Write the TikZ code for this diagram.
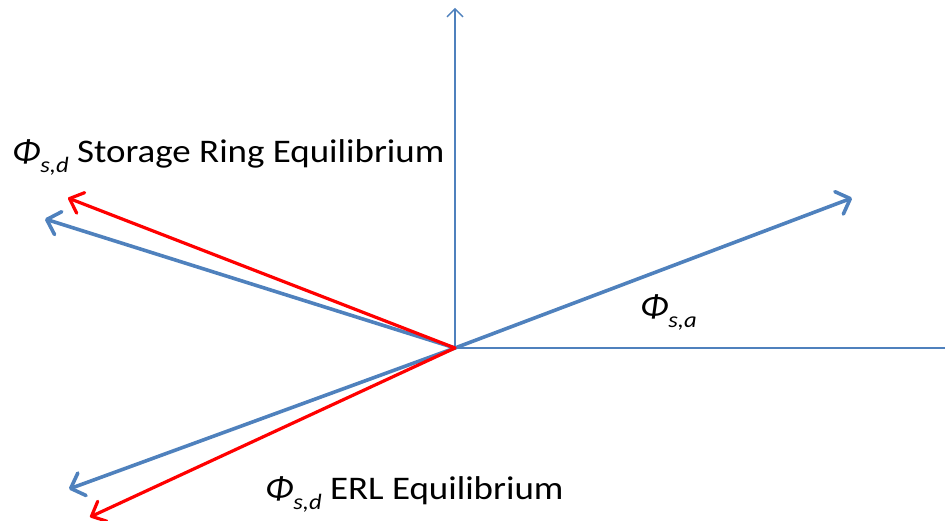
\documentclass[tikz,border=0pt]{standalone}
\usepackage{fontspec}
\setmainfont{Carlito}
\usetikzlibrary{arrows.meta}
\definecolor{ofblue}{RGB}{79,129,189}
\newcommand{\phisub}[1]{\textit{Φ}\raisebox{-0.28em}{\fontsize{22}{22}\selectfont\itshape #1}}
\newcommand{\wide}[1]{\scalebox{1.12}[1]{#1}}
\begin{document}
\begin{tikzpicture}[x=1pt,y=1pt,
  axisline/.style={draw=ofblue,line width=1.4pt,-{Straight Barb[length=8pt,width=16pt,line width=1.4pt]}},
  plainaxis/.style={draw=ofblue,line width=1.4pt},
  bluevec/.style={draw=ofblue,line width=3.6pt,line cap=round,-{Straight Barb[length=12pt,width=24pt,line width=3.6pt,round]}},
  redvec/.style={draw=red,line width=3.2pt,line cap=round,-{Straight Barb[length=12pt,width=22pt,line width=3.2pt,round]}},
  lbl/.style={anchor=base west,inner sep=0pt,font=\fontsize{33}{33}\selectfont}]
\useasboundingbox (0,0) rectangle (945,521);
\coordinate (O) at (455,173);
\coordinate (vtop) at (455,513);
\coordinate (hend) at (945,173);
\coordinate (bne) at (852,323);
\coordinate (bul) at (45,302);
\coordinate (rul) at (68,323);
\coordinate (bll) at (69,32);
\coordinate (rll) at (90,4);
\draw[axisline] (O) -- (vtop);
\draw[plainaxis] (O) -- (hend);
\draw[bluevec] (O) -- (bne);
\draw[bluevec] (O) -- (bul);
\draw[bluevec] (O) -- (bll);
\draw[redvec] (O) -- (rul);
\draw[redvec] (O) -- (rll);
\node[lbl] (lsr) at (12,358) {\wide{\phisub{s,d} Storage Ring Equilibrium}};
\node[lbl] (lerl) at (265,21) {\wide{\phisub{s,d} ERL Equilibrium}};
\node[lbl] (lsa) at (640,203) {\wide{\phisub{s,a}}};
\end{tikzpicture}
\end{document}
